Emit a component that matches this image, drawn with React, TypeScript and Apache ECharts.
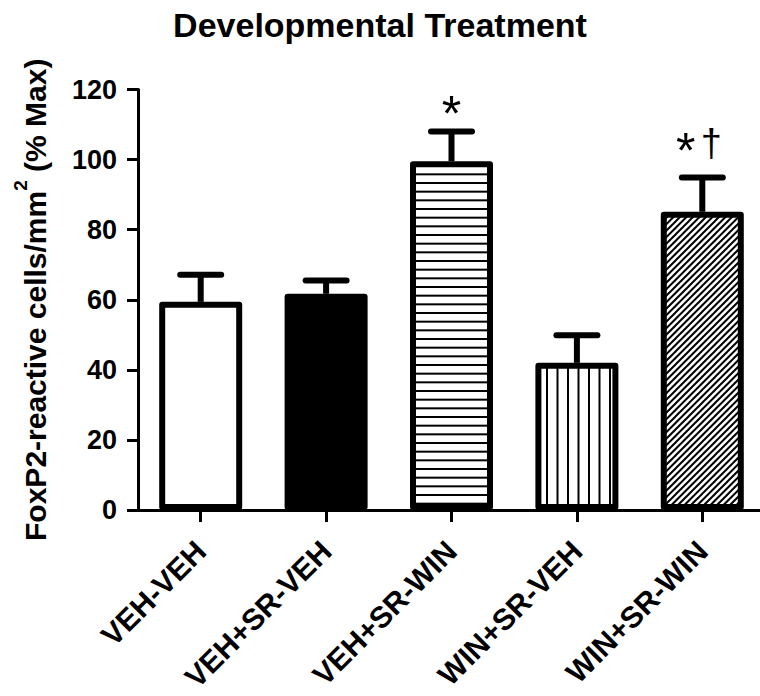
import React, { useEffect, useRef } from 'react';
import * as echarts from 'echarts';

const categories = ['VEH-VEH', 'VEH+SR-VEH', 'VEH+SR-WIN', 'WIN+SR-VEH', 'WIN+SR-WIN'];
const means = [59.4, 61.7, 99.5, 42.0, 85.1];
const sems = [7.7, 3.8, 8.5, 7.9, 9.8];
const sigLabels = ['', '', '*', '', '*†'];
const sigY: (number | null)[] = [null, null, 115.4, null, 104.6];
const fills = ['white', 'black', 'hlines', 'vlines', 'diag'];
const yMin = 0;
const yMax = 120;
const yStep = 20;

const FONT = '"Liberation Sans", Arial, Helvetica, sans-serif';

// per-glyph styling for the significance marks
const GLYPH: Record<string, { fs: number; adv: number; dy: number }> = {
  '*': { fs: 50, adv: 18, dy: 8 },
  '†': { fs: 38, adv: 33, dy: 0 },
};

function makeFill(kind: string): any {
  if (kind === 'white') return '#ffffff';
  if (kind === 'black') return '#000000';
  const c = document.createElement('canvas');
  let w = 13;
  let h = 13;
  if (kind === 'hlines') { w = 8; h = 26; }
  else if (kind === 'vlines') { w = 21; h = 8; }
  c.width = w;
  c.height = h;
  const ctx = c.getContext('2d')!;
  ctx.fillStyle = '#ffffff';
  ctx.fillRect(0, 0, w, h);
  ctx.fillStyle = '#000000';
  ctx.strokeStyle = '#000000';
  if (kind === 'hlines') {
    for (let k = 0; k < 3; k++) ctx.fillRect(0, (k * h) / 3, w, 2);
  } else if (kind === 'vlines') {
    for (let k = 0; k < 2; k++) ctx.fillRect((k * w) / 2, 0, 2, h);
  } else {
    ctx.lineWidth = 2;
    ctx.beginPath();
    for (const c0 of [0, 6.5, 13, 19.5, 26]) {
      ctx.moveTo(c0 + 3, -3);
      ctx.lineTo(-3, c0 + 3);
    }
    ctx.stroke();
  }
  return { image: c, repeat: 'repeat', imageWidth: w, imageHeight: h };
}

export default function App() {
  const ref = useRef<HTMLDivElement>(null);

  useEffect(() => {
    document.body.style.margin = '0';
    if (!ref.current) return;
    const chart = echarts.init(ref.current, undefined, { renderer: 'svg' });

    const option: any = {
      animation: false,
      backgroundColor: '#ffffff',
      textStyle: { fontFamily: FONT },
      title: {
        text: 'Developmental Treatment',
        left: 'center',
        top: 8,
        padding: 0,
        textStyle: { fontSize: 34, fontWeight: 'bold', color: '#000', fontFamily: FONT },
      },
      grid: { left: 138, right: -5, top: 89.5, bottom: 186, outerBoundsMode: 'none', containLabel: false },
      xAxis: {
        type: 'category',
        data: categories,
        axisLine: { show: true, lineStyle: { color: '#000', width: 3 } },
        axisTick: { show: true, alignWithLabel: true, length: 12, lineStyle: { color: '#000', width: 3 } },
        axisLabel: {
          interval: 0,
          rotate: 45,
          margin: 36,
          fontSize: 30,
          fontWeight: 'bold',
          color: '#000',
          fontFamily: FONT,
        },
        splitLine: { show: false },
      },
      yAxis: {
        type: 'value',
        min: yMin,
        max: yMax,
        interval: yStep,
        name: '{b|FoxP2-reactive cells/mm}{s|2}{b| (% Max)}',
        nameLocation: 'middle',
        nameRotate: 90,
        nameGap: 79,
        nameTextStyle: {
          rich: {
            b: { fontSize: 30, fontWeight: 'bold', fontFamily: FONT, color: '#000', lineHeight: 48 },
            s: { fontSize: 19, fontWeight: 'bold', fontFamily: FONT, color: '#000', lineHeight: 16, verticalAlign: 'top' },
          },
        },
        axisLine: { show: true, lineStyle: { color: '#000', width: 3 } },
        axisTick: { show: true, length: 11, lineStyle: { color: '#000', width: 3 } },
        axisLabel: { margin: 21, fontSize: 27, fontWeight: 'bold', color: '#000', fontFamily: FONT },
        splitLine: { show: false },
      },
      series: [
        {
          type: 'bar',
          barWidth: 83,
          z: 2,
          itemStyle: { borderColor: '#000', borderWidth: 6, borderJoin: 'round' },
          data: means.map((v, i) => ({ value: v, itemStyle: { color: makeFill(fills[i]) } })),
        },
        {
          type: 'custom',
          z: 3,
          encode: { x: 0, y: 1 },
          data: means.map((m, i) => [i, m, sems[i]]),
          renderItem: (params: any, api: any) => {
            const i = api.value(0);
            const m = api.value(1);
            const e = api.value(2);
            const p0 = api.coord([i, m]);
            const p1 = api.coord([i, m + e]);
            const half = 20.5;
            const children: any[] = [
              {
                type: 'line',
                shape: { x1: p0[0], y1: p0[1], x2: p1[0], y2: p1[1] },
                style: { stroke: '#000', lineWidth: 6 },
              },
              {
                type: 'line',
                shape: { x1: p1[0] - half, y1: p1[1], x2: p1[0] + half, y2: p1[1] },
                style: { stroke: '#000', lineWidth: 6, lineCap: 'round' },
              },
            ];
            const idx = params.dataIndex;
            const lbl = sigLabels[idx];
            const sy = sigY[idx];
            if (lbl && sy != null) {
              const ps = api.coord([i, sy]);
              const chars = Array.from(lbl);
              const total = chars.reduce((s, ch) => s + (GLYPH[ch] ? GLYPH[ch].adv : 20), 0);
              let cx = ps[0] - total / 2;
              chars.forEach((ch) => {
                const g = GLYPH[ch] || { fs: 36, adv: 20, dy: 0 };
                children.push({
                  type: 'text',
                  x: cx + g.adv / 2,
                  y: ps[1] + g.dy,
                  style: {
                    text: ch,
                    fontSize: g.fs,
                    fontFamily: FONT,
                    fill: '#000',
                    align: 'center',
                    verticalAlign: 'middle',
                  },
                });
                cx += g.adv;
              });
            }
            return { type: 'group', children };
          },
        },
      ],
    };

    chart.setOption(option);
    return () => {
      chart.dispose();
    };
  }, []);

  return (
    <div
      ref={ref}
      style={{ position: 'fixed', left: 0, top: 0, width: 760, height: 696, background: '#fff' }}
    />
  );
}
